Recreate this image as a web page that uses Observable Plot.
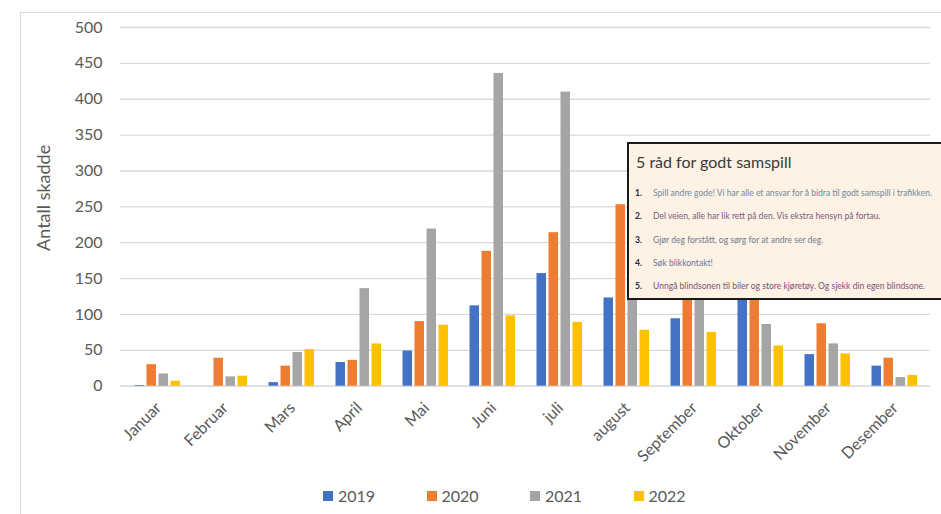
<!DOCTYPE html>
<html>
<head>
<meta charset="utf-8">
<script src="https://cdn.jsdelivr.net/npm/d3@7"></script>
<script src="https://cdn.jsdelivr.net/npm/@observablehq/plot@0.6"></script>
<style>
  html, body { margin: 0; padding: 0; background: #fff; }
  #wrap { position: relative; width: 941px; height: 514px; overflow: hidden; font-family: Lato, "Open Sans", sans-serif; }
  #frame { position: absolute; left: 20px; top: 12px; right: -5px; bottom: -5px; border-top: 1.5px solid #dadada; border-left: 1.5px solid #dadada; pointer-events: none; }
  #chart { position: absolute; left: 0; top: 0; }
  #legend { position: absolute; left: 323px; top: 486px; display: flex; color: #595959; font-size: 16px; }
  #legend .item { width: 103.5px; display: flex; align-items: center; }
  #legend .sw { width: 10px; height: 10px; margin-right: 5px; }
  #box { position: absolute; left: 627px; top: 142px; width: 340px; height: 154px; background: #fdf2e4; border: 2px solid #1a1a1a; white-space: nowrap; }
  #box h3 { margin: 0; position: absolute; left: 7px; top: 8px; font-weight: normal; font-size: 16px; color: #3a3a3a; font-family: Lato, sans-serif; }
  #box ol { margin: 0; padding: 0; list-style: none; position: absolute; left: 6px; top: 44px; font-size: 8.55px; }
  #box li { height: 23.3px; }
  #box li b { display: inline-block; width: 18px; color: #1f2a4a; }
</style>
</head>
<body>
<div id="wrap">
  <div id="chart"></div>
  <div id="frame"></div>
  <div id="box">
    <h3>5 råd for godt samspill</h3>
    <ol id="tips"></ol>
  </div>
  <div id="legend"></div>
</div>
<script>
const months = ["Januar","Februar","Mars","April","Mai","Juni","juli","august","September","Oktober","November","Desember"];
const years = ["2019","2020","2021","2022"];
const colors = ["#4472C4","#ED7D31","#A5A5A5","#FFC000"];
const values2019 = [1, 0, 5, 33, 49, 112, 157, 123, 94, 130, 44, 28];
const values2020 = [30, 39, 28, 36, 90, 188, 214, 253, 170, 150, 87, 39];
const values2021 = [17, 13, 47, 136, 219, 436, 410, 290, 180, 86, 59, 12];
const values2022 = [7, 14, 51, 59, 85, 98, 89, 78, 75, 56, 45, 15];
const yTicks = [0, 50, 100, 150, 200, 250, 300, 350, 400, 450, 500];
const yLabel = "Antall skadde";
const boxTitle = "5 råd for godt samspill";
const tips = [
  "Spill andre gode! Vi har alle et ansvar for å bidra til godt samspill i trafikken.",
  "Del veien, alle har lik rett på den. Vis ekstra hensyn på fortau.",
  "Gjør deg forstått, og sørg for at andre ser deg.",
  "Søk blikkontakt!",
  "Unngå blindsonen til biler og store kjøretøy. Og sjekk din egen blindsone."
];
const tipColors = ["#6f8aa0", "#7a5a80", "#707a90", "#6a74a0", "#80507a"];

const series = [values2019, values2020, values2021, values2022];
const table = [];
years.forEach((yr, i) => months.forEach((m, j) => table.push({month: m, year: yr, value: series[i][j]})));

const step = 12;
const barMarks = years.map((yr, i) =>
  Plot.barY(table.filter(d => d.year === yr), {
    x: "month", y: "value", fill: colors[i],
    insetLeft: i * step + 0.5, insetRight: (years.length - 1 - i) * step
  })
);

const chart = Plot.plot({
  width: 941, height: 480,
  marginLeft: 120, marginRight: 11, marginTop: 27, marginBottom: 94.3,
  style: {fontFamily: "Lato, 'Open Sans', sans-serif", color: "#595959", background: "transparent"},
  x: {domain: months, paddingInner: 0.32, paddingOuter: 0.16},
  y: {domain: [0, 500]},
  marks: [
    Plot.gridY(yTicks, {stroke: "#d9d9d9", strokeOpacity: 1, strokeWidth: 1.3}),
    Plot.ruleY([0], {stroke: "#d9d9d9", strokeWidth: 1.3}),
    ...barMarks,
    Plot.axisY(yTicks, {tickSize: 0, tickPadding: 18, fontSize: 16, label: null, fill: "#595959"}),
    Plot.axisX({tickSize: 0, tickRotate: -45, tickPadding: 19, fontSize: 16, label: null, fill: "#595959", dx: 1}),
    Plot.text([yLabel], {frameAnchor: "left", textAnchor: "middle", rotate: -90, dx: -76, dy: -9, fontSize: 18, fill: "#595959"})
  ]
});
document.getElementById("chart").appendChild(chart);

const tipsEl = document.getElementById("tips");
tips.forEach((t, i) => {
  const li = document.createElement("li");
  li.innerHTML = `<b>${i + 1}.</b><span style="color:${tipColors[i]}">${t}</span>`;
  tipsEl.appendChild(li);
});

const legend = document.getElementById("legend");
years.forEach((yr, i) => {
  const it = document.createElement("div");
  it.className = "item";
  it.innerHTML = `<span class="sw" style="background:${colors[i]}"></span><span>${yr}</span>`;
  legend.appendChild(it);
});
</script>
</body>
</html>
